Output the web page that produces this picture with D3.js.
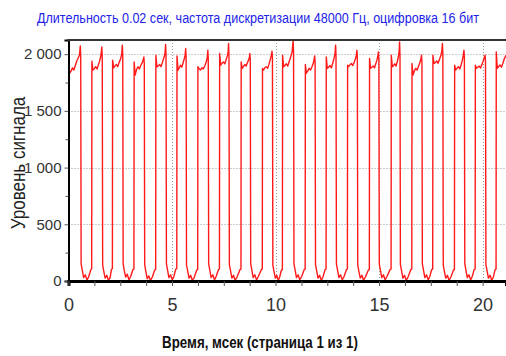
<!DOCTYPE html>
<html>
<head>
<meta charset="utf-8">
<script src="https://cdn.jsdelivr.net/npm/d3@7"></script>
<style>
  body { margin: 0; background: #fff; }
  svg { display: block; }
</style>
</head>
<body>
<div id="chart"></div>
<script>
// --- chart text ---
const titleText = 'Длительность 0.02 сек, частота дискретизации 48000 Гц, оцифровка 16 бит';
const xTitle = 'Время, мсек (страница 1 из 1)';
const yTitle = 'Уровень сигнала';

// --- ticks ---
const xTicks = [0, 5, 10, 15, 20];
const xMinorTicks = [0, 1.25, 2.5, 3.75, 5, 6.25, 7.5, 8.75, 10, 11.25, 12.5, 13.75, 15, 16.25, 17.5, 18.75, 20];
const yTicks = [0, 500, 1000, 1500, 2000];
const yMinorTicks = [250, 750, 1250, 1750];

// --- signal, [ms, level], one row per pulse ---
const pulses = [
  [[0,1900],[0.06,1832],[0.12,1850],[0.19,1880],[0.26,1860],[0.33,1900],[0.40,1940],[0.53,1990],[0.57,2073],[0.59,1980],[0.61,150],[0.66,100],[0.73,30],[0.81,55],[0.89,10],[0.97,35],[1.07,95]],
  [[1.12,110],[1.13,1938],[1.18,1860],[1.24,1870],[1.31,1890],[1.38,1870],[1.45,1910],[1.52,1950],[1.57,1995],[1.61,2064],[1.63,1970],[1.65,140],[1.70,90],[1.77,25],[1.85,50],[1.93,5],[2.01,30],[2.07,100]],
  [[2.12,110],[2.13,1947],[2.18,1880],[2.24,1895],[2.31,1910],[2.38,1890],[2.45,1930],[2.52,1960],[2.57,2000],[2.60,2080],[2.62,1990],[2.64,150],[2.69,95],[2.76,35],[2.84,60],[2.92,10],[3.00,40],[3.11,100]],
  [[3.16,105],[3.17,1932],[3.22,1816],[3.28,1860],[3.35,1889],[3.42,1870],[3.49,1900],[3.56,1925],[3.61,1950],[3.64,1976],[3.66,1920],[3.68,145],[3.73,90],[3.80,20],[3.88,45],[3.96,5],[4.05,35],[4.16,95]],
  [[4.21,100],[4.22,1991],[4.27,1889],[4.33,1895],[4.40,1910],[4.47,1890],[4.54,1930],[4.61,1970],[4.66,2010],[4.69,2085],[4.71,2000],[4.73,150],[4.78,100],[4.85,30],[4.93,55],[5.01,10],[5.09,40],[5.18,105]],
  [[5.23,110],[5.24,1985],[5.29,1860],[5.35,1880],[5.41,1903],[5.47,1885],[5.53,1920],[5.59,1960],[5.63,1990],[5.66,2050],[5.68,1980],[5.70,140],[5.75,95],[5.82,25],[5.90,50],[5.98,5],[6.07,30],[6.19,95]],
  [[6.24,100],[6.25,1889],[6.30,1875],[6.37,1860],[6.44,1880],[6.51,1870],[6.58,1895],[6.65,1930],[6.70,1970],[6.73,2035],[6.75,1960],[6.77,150],[6.82,100],[6.89,30],[6.97,55],[7.05,10],[7.13,40],[7.24,100]],
  [[7.29,105],[7.30,2006],[7.35,1903],[7.41,1920],[7.48,1932],[7.55,1915],[7.61,1950],[7.67,1985],[7.71,2020],[7.73,2094],[7.75,2000],[7.77,145],[7.82,95],[7.89,25],[7.97,50],[8.05,5],[8.14,35],[8.28,100]],
  [[8.33,105],[8.34,1932],[8.39,1875],[8.45,1890],[8.52,1909],[8.58,1895],[8.64,1925],[8.70,1950],[8.74,1975],[8.76,2006],[8.78,1950],[8.80,150],[8.85,100],[8.92,30],[9.00,55],[9.08,10],[9.17,40],[9.31,100]],
  [[9.36,105],[9.37,1875],[9.42,1860],[9.48,1880],[9.55,1889],[9.62,1875],[9.68,1910],[9.74,1950],[9.79,1985],[9.83,2026],[9.85,1960],[9.87,140],[9.92,90],[9.99,25],[10.06,50],[10.13,5],[10.20,35],[10.28,95]],
  [[10.33,100],[10.34,1991],[10.39,1889],[10.45,1900],[10.52,1915],[10.59,1895],[10.66,1935],[10.73,1975],[10.80,2020],[10.85,2123],[10.87,2010],[10.89,150],[10.94,100],[11.01,30],[11.09,55],[11.17,10],[11.26,40],[11.38,100]],
  [[11.43,105],[11.44,1909],[11.49,1832],[11.55,1850],[11.62,1875],[11.69,1860],[11.76,1890],[11.82,1920],[11.86,1950],[11.89,1985],[11.91,1930],[11.93,145],[11.98,95],[12.05,25],[12.13,50],[12.21,5],[12.29,35],[12.39,100]],
  [[12.44,105],[12.45,1976],[12.50,1875],[12.56,1885],[12.63,1900],[12.70,1880],[12.76,1920],[12.82,1960],[12.87,2000],[12.90,2080],[12.92,1990],[12.94,150],[12.99,100],[13.06,30],[13.14,55],[13.22,10],[13.31,40],[13.42,100]],
  [[13.47,105],[13.48,1903],[13.53,1890],[13.59,1905],[13.66,1918],[13.73,1900],[13.80,1930],[13.86,1960],[13.90,1990],[13.93,2035],[13.95,1970],[13.97,140],[14.02,90],[14.09,25],[14.17,50],[14.25,5],[14.34,35],[14.48,95]],
  [[14.53,100],[14.54,1962],[14.59,1875],[14.65,1885],[14.72,1895],[14.78,1880],[14.84,1915],[14.90,1950],[14.94,1985],[14.97,2020],[14.99,1960],[15.01,150],[15.06,100],[15.13,30],[15.21,55],[15.29,10],[15.38,40],[15.53,100]],
  [[15.58,105],[15.59,1991],[15.64,1889],[15.70,1900],[15.76,1915],[15.82,1895],[15.88,1935],[15.93,1975],[15.97,2030],[15.99,2108],[16.01,2000],[16.03,145],[16.08,95],[16.15,25],[16.23,50],[16.31,5],[16.40,35],[16.53,100]],
  [[16.58,105],[16.59,1918],[16.64,1816],[16.70,1850],[16.77,1875],[16.84,1860],[16.91,1895],[16.98,1930],[17.02,1960],[17.05,1991],[17.07,1930],[17.09,150],[17.14,100],[17.21,30],[17.29,55],[17.37,10],[17.45,40],[17.54,100]],
  [[17.59,105],[17.60,1991],[17.65,1918],[17.71,1925],[17.78,1940],[17.85,1920],[17.92,1955],[17.99,1990],[18.03,2030],[18.06,2094],[18.08,2000],[18.10,140],[18.15,90],[18.22,25],[18.30,50],[18.38,5],[18.47,35],[18.59,95]],
  [[18.64,100],[18.65,1903],[18.70,1860],[18.76,1875],[18.83,1890],[18.90,1870],[18.96,1905],[19.02,1945],[19.06,1985],[19.10,2035],[19.12,1970],[19.14,150],[19.19,100],[19.26,30],[19.34,55],[19.42,10],[19.50,40],[19.59,100]],
  [[19.64,105],[19.65,1903],[19.70,1875],[19.76,1885],[19.83,1895],[19.90,1878],[19.97,1910],[20.04,1945],[20.08,1970],[20.12,1991],[20.14,1940],[20.16,145],[20.21,95],[20.28,25],[20.36,50],[20.44,5],[20.52,35],[20.60,100]],
  [[20.65,105],[20.66,2020],[20.71,1875],[20.77,1890],[20.84,1905],[20.91,1885],[20.98,1920],[21.05,1960],[21.13,1990]]
];

// --- layout ---
const W = 506, H = 356;
const FONT = '"Liberation Sans Narrow", "Arial Narrow", "Liberation Sans", Arial, sans-serif';

const x = d3.scaleLinear().domain([0, 21.13]).range([68.5, 506]);
const y = d3.scaleLinear().domain([0, 2125]).range([281, 40]);

const fmt = d3.formatLocale({ decimal: '.', thousands: '\u00a0', grouping: [3], currency: ['', ''] }).format(',');

const svg = d3.select('#chart').append('svg')
  .attr('width', W).attr('height', H)
  .style('font-family', FONT);

// text drawn narrow and tall like the original: fit width, then stretch vertically
function tallText(transform, str, size, width, stretch, weight, fill) {
  const t = svg.append('g').attr('transform', transform)
    .append('g').attr('transform', `scale(1,${stretch})`)
    .append('text')
    .attr('text-anchor', 'middle')
    .attr('font-size', size)
    .attr('font-weight', weight)
    .attr('fill', fill)
    .text(str);
  const len = t.node().getComputedTextLength();
  if (len > width) t.attr('font-size', (size * width / len).toFixed(2));
  return t;
}

// title
tallText('translate(258,23)', titleText, 16, 442, 1.2, 'normal', '#2323e8');

// grid (dotted)
const grid = svg.append('g').attr('stroke', '#9a9a9a').attr('stroke-dasharray', '1,2').attr('stroke-width', 1);
grid.selectAll('.hg').data(yTicks.filter(d => d > 0)).enter().append('line')
  .attr('x1', x.range()[0]).attr('x2', W)
  .attr('y1', d => Math.round(y(d)) + 0.5).attr('y2', d => Math.round(y(d)) + 0.5);
grid.selectAll('.vg').data(xTicks.filter(d => d > 0)).enter().append('line')
  .attr('y1', y.range()[1]).attr('y2', y.range()[0])
  .attr('x1', d => Math.round(x(d)) + 0.5).attr('x2', d => Math.round(x(d)) + 0.5);

// signal
svg.append('clipPath').attr('id', 'plot-clip').append('rect')
  .attr('x', x.range()[0]).attr('y', y.range()[1])
  .attr('width', W - x.range()[0]).attr('height', y.range()[0] - y.range()[1]);

const line = d3.line().x(d => x(d[0])).y(d => y(d[1]));
svg.append('path')
  .datum(pulses.flat())
  .attr('clip-path', 'url(#plot-clip)')
  .attr('d', line)
  .attr('fill', 'none')
  .attr('stroke', '#ff1a1a')
  .attr('stroke-width', 1.4)
  .attr('stroke-linejoin', 'round');

// y axis
const yAxis = svg.append('g')
  .attr('transform', `translate(${x.range()[0]},0)`)
  .call(d3.axisLeft(y).tickValues(yTicks).tickSize(4).tickPadding(3).tickFormat(fmt));
svg.append('g')
  .attr('transform', `translate(${x.range()[0]},0)`)
  .call(d3.axisLeft(y).tickValues(yMinorTicks).tickSize(3).tickFormat(''))
  .call(g => g.select('.domain').remove());
yAxis.select('.domain').attr('stroke', '#000').attr('stroke-width', 2);
yAxis.selectAll('text').attr('font-size', 15).attr('fill', '#333').style('font-family', FONT);
svg.selectAll('.tick line').attr('stroke', '#555');

// x axis
const xAxis = svg.append('g')
  .attr('transform', `translate(0,${y.range()[0]})`)
  .call(d3.axisBottom(x).tickValues(xMinorTicks).tickSize(5).tickPadding(12)
    .tickFormat(d => xTicks.includes(d) ? d : ''));
xAxis.select('.domain').attr('stroke', '#000').attr('stroke-width', 3);
xAxis.selectAll('.tick line').attr('stroke', '#555');
xAxis.selectAll('text').attr('font-size', 18).attr('fill', '#333').style('font-family', FONT);

// top frame
svg.append('line')
  .attr('x1', x.range()[0] - 1).attr('x2', W)
  .attr('y1', y.range()[1]).attr('y2', y.range()[1])
  .attr('stroke', '#333').attr('stroke-width', 2);

// axis titles
tallText('translate(260,348)', xTitle, 17, 196, 1.3, 'bold', '#111');
tallText('translate(25,163) rotate(-90)', yTitle, 17, 154, 1.2, 'normal', '#222');
</script>
</body>
</html>
